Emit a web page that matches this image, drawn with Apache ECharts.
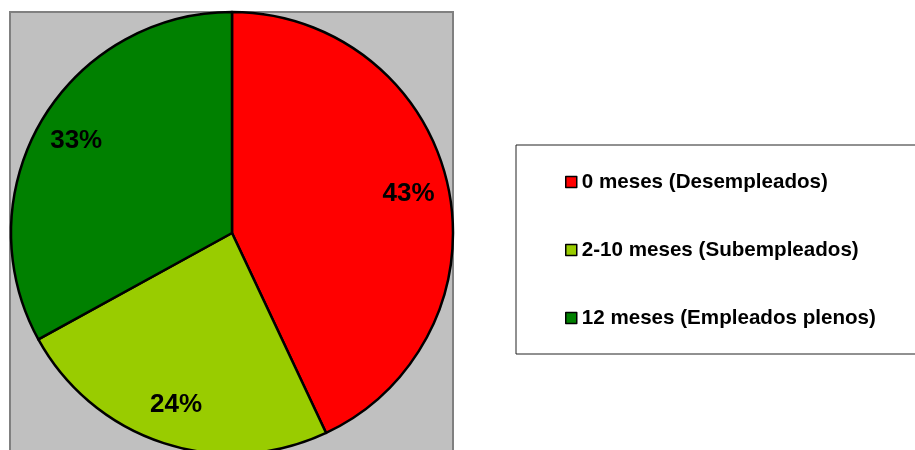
<!DOCTYPE html>
<html>
<head>
<meta charset="utf-8">
<script src="https://cdn.jsdelivr.net/npm/echarts@6/dist/echarts.min.js"></script>
<style>html,body{margin:0;padding:0;background:#fff;}#c{width:915px;height:450px;}</style>
</head>
<body>
<div id="c"></div>
<script>
const categories = ['0 meses (Desempleados)', '2-10 meses (Subempleados)', '12 meses (Empleados plenos)'];
const values = [43, 24, 33];
const colors = ['#FF0000', '#99CC00', '#008000'];

const chart = echarts.init(document.getElementById('c'), null, {renderer: 'canvas'});
const data = categories.map((n, i) => ({name: n, value: values[i], itemStyle: {color: colors[i]}}));
const labelData = categories.map((n, i) => ({name: n, value: values[i]}));

chart.setOption({
  animation: false,
  backgroundColor: '#fff',
  graphic: [{
    type: 'rect', z: -1,
    shape: {x: 10, y: 12, width: 443, height: 460},
    style: {fill: '#C0C0C0', stroke: '#808080', lineWidth: 2}
  }],
  legend: {
    orient: 'vertical',
    left: 516, top: 145,
    padding: [26, 60, 25, 49],
    itemGap: 46,
    itemWidth: 11, itemHeight: 11,
    borderColor: '#222', borderWidth: 1,
    icon: 'rect',
    itemStyle: {borderColor: '#000', borderWidth: 1.5},
    textStyle: {fontFamily: 'Liberation Sans, Arial', fontWeight: 'bold', fontSize: 20.6, lineHeight: 22, color: '#000'},
    selectedMode: false,
    data: categories
  },
  series: [{
    type: 'pie',
    center: [232, 233],
    radius: [0, 221],
    startAngle: 90,
    clockwise: true,
    data: data,
    label: {show: false},
    labelLine: {show: false},
    itemStyle: {borderColor: '#000', borderWidth: 2.5},
    emphasis: {disabled: true}
  }, {
    type: 'pie',
    center: [232, 233],
    radius: [135, 221],
    startAngle: 90,
    clockwise: true,
    silent: true,
    legendHoverLink: false,
    data: labelData,
    itemStyle: {color: 'transparent', borderWidth: 0},
    label: {
      show: true, position: 'inside',
      formatter: p => p.value + '%',
      fontFamily: 'Liberation Sans, Arial', fontWeight: 'bold', fontSize: 26, color: '#000'
    },
    labelLine: {show: false},
    emphasis: {disabled: true}
  }]
});
</script>
</body>
</html>
